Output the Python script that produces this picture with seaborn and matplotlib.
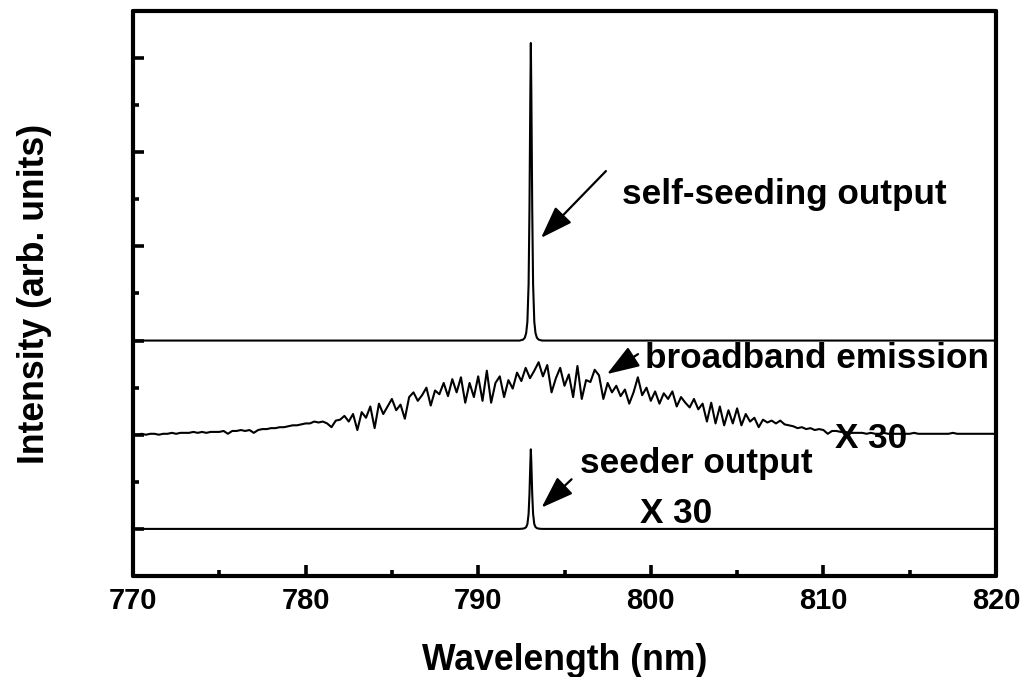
import numpy as np
import pandas as pd
import matplotlib
matplotlib.use("Agg")
import matplotlib.pyplot as plt
import seaborn as sns

# ---- data -------------------------------------------------------------
# narrow laser lines (wavelength in nm, intensity above trace baseline)
peak_wl = [770.0, 792.40, 792.60, 792.70, 792.78, 792.85, 792.92, 792.97,
           793.02, 793.05, 793.08, 793.13, 793.18, 793.25, 793.32, 793.40,
           793.50, 793.70, 820.0]
self_seeding = [0, 0, 0.01, 0.03, 0.08, 0.20, 0.60, 1.40, 2.60, 3.16,
                2.60, 1.40, 0.60, 0.20, 0.08, 0.03, 0.01, 0, 0]
seeder = [0, 0, 0.003, 0.008, 0.02, 0.05, 0.16, 0.37, 0.69, 0.845,
          0.69, 0.37, 0.16, 0.05, 0.02, 0.008, 0.003, 0, 0]

# broadband (ASE) emission, sampled every 0.25 nm from 770 to 820 nm (x30)
broad_start, broad_step = 770.0, 0.25
broadband = [
    0.00, 0.00, 0.01, 0.00,  0.01, 0.01, 0.00, 0.01,   # 770-771
    0.01, 0.02, 0.01, 0.02,  0.02, 0.02, 0.03, 0.02,   # 772-773
    0.03, 0.02, 0.03, 0.03,  0.03, 0.04, 0.01, 0.04,   # 774-775
    0.04, 0.05, 0.04, 0.05,  0.02, 0.05, 0.06, 0.06,   # 776-777
    0.07, 0.07, 0.08, 0.08,  0.09, 0.10, 0.10, 0.11,   # 778-779
    0.12, 0.12, 0.14, 0.13,  0.14, 0.12, 0.08, 0.15,   # 780-781
    0.16, 0.20, 0.14, 0.22,  0.05, 0.24, 0.18, 0.30,   # 782-783
    0.07, 0.33, 0.22, 0.30,  0.38, 0.26, 0.32, 0.17,   # 784-785
    0.40, 0.45, 0.36, 0.42,  0.50, 0.31, 0.47, 0.43,   # 786-787
    0.55, 0.41, 0.59, 0.45,  0.61, 0.34, 0.55, 0.40,   # 788-789
    0.62, 0.36, 0.68, 0.34,  0.55, 0.62, 0.40, 0.58,   # 790-791
    0.49, 0.66, 0.57, 0.71,  0.60, 0.68, 0.77, 0.62,   # 792-793
    0.74, 0.45, 0.60, 0.71,  0.52, 0.64, 0.40, 0.73,   # 794-795
    0.38, 0.58, 0.56, 0.69,  0.63, 0.38, 0.55, 0.45,   # 796-797
    0.52, 0.41, 0.48, 0.33,  0.45, 0.61, 0.42, 0.50,   # 798-799
    0.36, 0.46, 0.33, 0.44,  0.38, 0.46, 0.30, 0.40,   # 800-801
    0.34, 0.29, 0.38, 0.27,  0.33, 0.14, 0.34, 0.12,   # 802-803
    0.30, 0.10, 0.26, 0.12,  0.28, 0.10, 0.22, 0.14,   # 804-805
    0.18, 0.08, 0.16, 0.13,  0.15, 0.12, 0.15, 0.11,   # 806-807
    0.10, 0.09, 0.07, 0.08,  0.06, 0.07, 0.05, 0.06,   # 808-809
    0.05, 0.01, 0.04, 0.04,  0.03, 0.03, 0.02, 0.02,   # 810-811
    0.02, 0.02, 0.01, 0.02,  0.01, 0.01, 0.02, 0.01,   # 812-813
    0.01, 0.01, 0.01, 0.01,  0.01, 0.02, 0.01, 0.01,   # 814-815
    0.01, 0.01, 0.01, 0.01,  0.01, 0.01, 0.02, 0.01,   # 816-817
    0.01, 0.01, 0.01, 0.01,  0.01, 0.01, 0.01, 0.01,   # 818-819
    0.01,                                              # 820
]
broad_wl = [broad_start + i * broad_step for i in range(len(broadband))]

x_ticks = [770, 780, 790, 800, 810, 820]

# vertical offsets that stack the three spectra
offset_self, offset_broad, offset_seeder = 2.0, 1.0, 0.0

# ---- figure -----------------------------------------------------------
sns.set_style("ticks")
plt.rcParams["font.family"] = ["Liberation Sans", "DejaVu Sans"]
plt.rcParams["font.weight"] = "bold"
plt.rcParams["text.color"] = "black"
plt.rcParams["axes.labelcolor"] = "black"
plt.rcParams["xtick.color"] = "black"
plt.rcParams["ytick.color"] = "black"
plt.rcParams["axes.edgecolor"] = "black"

fig = plt.figure(figsize=(10.26, 6.77), dpi=100)
ax = fig.add_axes([0.1296, 0.1492, 0.8412, 0.8346])

traces = pd.concat([
    pd.DataFrame({"wl": peak_wl, "I": np.array(self_seeding) + offset_self, "trace": "self"}),
    pd.DataFrame({"wl": broad_wl, "I": np.array(broadband) + offset_broad, "trace": "broad"}),
    pd.DataFrame({"wl": peak_wl, "I": np.array(seeder) + offset_seeder, "trace": "seeder"}),
])
sns.lineplot(data=traces, x="wl", y="I", units="trace", estimator=None,
             sort=False, color="black", lw=1.5, ax=ax)

ax.set_xlim(770, 820)
ax.set_ylim(-0.5, 5.5)
ax.set_xticks(x_ticks)
ax.set_xticks(np.arange(775, 820, 10), minor=True)
ax.set_yticks(np.arange(0, 6, 1))
ax.set_yticks(np.arange(0.5, 5.5, 1), minor=True)
ax.set_yticklabels([])
ax.tick_params(axis="both", which="major", direction="in", length=8, width=2.6,
               labelsize=21, pad=8, colors="black")
ax.tick_params(axis="both", which="minor", direction="in", length=4, width=2.6,
               colors="black")
ax.tick_params(axis="y", which="both", labelleft=False)
for lbl in ax.get_xticklabels():
    lbl.set_fontweight("bold")
for tl in ax.xaxis.get_majorticklines() + ax.xaxis.get_minorticklines() + \
        ax.yaxis.get_majorticklines() + ax.yaxis.get_minorticklines():
    tl.set_solid_capstyle("round")

for side in ["left", "bottom", "right", "top"]:
    ax.spines[side].set_linewidth(3)
    ax.spines[side].set_visible(True)
    ax.spines[side].set_capstyle("round")
    ax.spines[side].set_color("black")

ax.set_xlabel("Wavelength (nm)", fontsize=25.7, fontweight="bold", labelpad=20)
ax.set_ylabel("Intensity (arb. units)", fontsize=25.7, fontweight="bold", labelpad=58)

text_kw = dict(fontsize=25.3, fontweight="bold", color="black")
arrow = dict(arrowstyle="-|>,head_length=1.0,head_width=0.35", color="black",
             lw=1.6, mutation_scale=20, shrinkA=0, shrinkB=0)

ax.annotate("", xy=(793.64, 3.09), xytext=(797.4, 3.80), arrowprops=arrow)
ax.text(798.33, 3.55, "self-seeding output", va="center", ha="left", **text_kw)

ax.annotate("", xy=(797.46, 1.644), xytext=(799.26, 1.856), arrowprops=arrow)
ax.text(799.66, 1.81, "broadband emission", va="center", ha="left", **text_kw)
ax.text(812.76, 0.965, "X 30", va="center", ha="center", **text_kw)

ax.annotate("", xy=(793.67, 0.226), xytext=(795.41, 0.527), arrowprops=arrow)
ax.text(795.9, 0.69, "seeder output", va="center", ha="left", **text_kw)
ax.text(801.46, 0.159, "X 30", va="center", ha="center", **text_kw)

fig.savefig("out.png", dpi=100)
